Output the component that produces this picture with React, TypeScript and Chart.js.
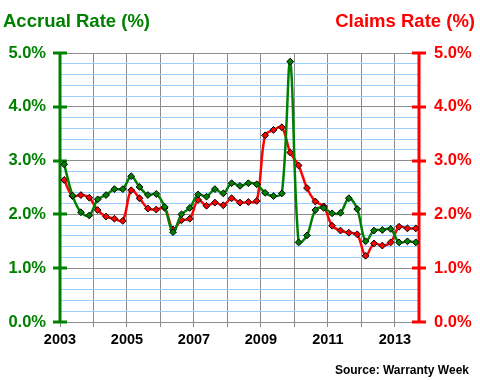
import React, { useEffect, useRef } from 'react';
import { Chart, registerables } from 'chart.js';

Chart.register(...registerables);

const quarters = [
  '2003 Q1', '2003 Q2', '2003 Q3', '2003 Q4',
  '2004 Q1', '2004 Q2', '2004 Q3', '2004 Q4',
  '2005 Q1', '2005 Q2', '2005 Q3', '2005 Q4',
  '2006 Q1', '2006 Q2', '2006 Q3', '2006 Q4',
  '2007 Q1', '2007 Q2', '2007 Q3', '2007 Q4',
  '2008 Q1', '2008 Q2', '2008 Q3', '2008 Q4',
  '2009 Q1', '2009 Q2', '2009 Q3', '2009 Q4',
  '2010 Q1', '2010 Q2', '2010 Q3', '2010 Q4',
  '2011 Q1', '2011 Q2', '2011 Q3', '2011 Q4',
  '2012 Q1', '2012 Q2', '2012 Q3', '2012 Q4',
  '2013 Q1', '2013 Q2', '2013 Q3',
];

const accrualRate = [
  2.93, 2.35, 2.04, 1.98,
  2.28, 2.36, 2.47, 2.47,
  2.71, 2.51, 2.36, 2.38,
  2.14, 1.67, 2.0, 2.12,
  2.37, 2.33, 2.47, 2.39,
  2.58, 2.53, 2.58, 2.56,
  2.4, 2.34, 2.39, 4.84,
  1.48, 1.61, 2.08, 2.12,
  2.02, 2.03, 2.3, 2.1,
  1.5, 1.7, 1.71, 1.73,
  1.48, 1.5, 1.48,
];

const claimsRate = [
  2.64, 2.34, 2.36, 2.31,
  2.08, 1.96, 1.92, 1.88,
  2.45, 2.3, 2.11, 2.09,
  2.12, 1.72, 1.89, 1.92,
  2.27, 2.16, 2.22, 2.17,
  2.3, 2.22, 2.23, 2.25,
  3.47, 3.57, 3.62, 3.15,
  2.91, 2.49, 2.24, 2.15,
  1.79, 1.7, 1.66, 1.63,
  1.23, 1.46, 1.42, 1.48,
  1.77, 1.74, 1.74,
];

const yearLabels = [2003, 2005, 2007, 2009, 2011, 2013];

const FONT = "'Liberation Sans', Arial, sans-serif";
const GREEN = '#008000';
const RED = '#ff0000';
const GRID_GREY = '#8c8c8c';
const GRID_BLUE = '#99ccff';

const quarterToX = (q: string) => {
  const [y, qq] = q.split(' Q');
  return Number(y) + (Number(qq) - 0.5) / 4;
};

const axesPlugin = {
  id: 'crossAxes',
  beforeDatasetsDraw(chart: any) {
    const { ctx, chartArea } = chart;
    const y = chart.scales.y;
    const y2 = chart.scales.y2;
    ctx.save();
    ctx.lineWidth = 3;
    const drawAxis = (scale: any, x: number, color: string) => {
      ctx.strokeStyle = color;
      ctx.beginPath();
      ctx.moveTo(x, chartArea.top);
      ctx.lineTo(x, chartArea.bottom);
      ctx.stroke();
      scale.ticks.forEach((t: any) => {
        if (Math.abs(t.value - Math.round(t.value)) < 1e-6) {
          const py = Math.round(scale.getPixelForValue(t.value));
          ctx.beginPath();
          ctx.moveTo(x - 7, py);
          ctx.lineTo(x + 7, py);
          ctx.stroke();
        }
      });
    };
    drawAxis(y, Math.round(chartArea.left), GREEN);
    drawAxis(y2, Math.round(chartArea.right), RED);
    ctx.restore();
  },
};

export default function App() {
  const canvasRef = useRef<HTMLCanvasElement | null>(null);

  useEffect(() => {
    document.body.style.margin = '0';
    const canvas = canvasRef.current;
    if (!canvas) return;
    const isInt = (v: number) => Math.abs(v - Math.round(v)) < 1e-6;
    const chart = new Chart(canvas, {
      type: 'line',
      data: {
        datasets: [
          {
            label: 'Accrual Rate (%)',
            data: quarters.map((q, i) => ({ x: quarterToX(q), y: accrualRate[i] })),
            yAxisID: 'y',
            borderColor: GREEN,
            backgroundColor: GREEN,
            borderWidth: 2.5,
            tension: 0.35,
            pointStyle: 'rectRot',
            pointRadius: 3.4,
            pointBackgroundColor: GREEN,
            pointBorderColor: '#000',
            pointBorderWidth: 1,
          },
          {
            label: 'Claims Rate (%)',
            data: quarters.map((q, i) => ({ x: quarterToX(q), y: claimsRate[i] })),
            yAxisID: 'y2',
            borderColor: RED,
            backgroundColor: RED,
            borderWidth: 2.5,
            tension: 0.35,
            pointStyle: 'rectRot',
            pointRadius: 3.4,
            pointBackgroundColor: RED,
            pointBorderColor: '#000',
            pointBorderWidth: 1,
          },
        ],
      },
      options: {
        animation: false,
        responsive: false,
        devicePixelRatio: 1,
        layout: { padding: { top: 53, left: 0, right: 0, bottom: 0 } },
        plugins: {
          legend: { display: false },
          tooltip: { enabled: false },
          title: { display: false },
        },
        scales: {
          x: {
            type: 'linear',
            min: 2003,
            max: 2013.72,
            afterFit: (s: any) => { s.height = 58; },
            grid: {
              color: GRID_GREY,
              lineWidth: 1,
              drawTicks: true,
              tickLength: 5,
              tickColor: GRID_GREY,
            },
            border: { display: true, color: GRID_GREY, width: 1 },
            ticks: {
              stepSize: 1,
              autoSkip: false,
              includeBounds: false,
              maxRotation: 0,
              padding: 4,
              color: '#000',
              font: { family: FONT, size: 14.5, weight: 'bold' },
              callback: (v: any) => (yearLabels.includes(Math.round(Number(v))) && isInt(Number(v)) ? String(Math.round(Number(v))) : ''),
            },
          },
          y: {
            type: 'linear',
            position: 'left',
            min: 0,
            max: 5,
            afterFit: (s: any) => { s.width = 60; },
            grid: {
              drawTicks: false,
              lineWidth: 1,
              color: (ctx: any) => (ctx.tick && isInt(ctx.tick.value) ? GRID_GREY : GRID_BLUE),
            },
            border: { display: false },
            ticks: {
              stepSize: 0.2,
              autoSkip: false,
              padding: 14,
              color: GREEN,
              font: { family: FONT, size: 16.5, weight: 'bold' },
              callback: (v: any) => (isInt(Number(v)) ? Number(v).toFixed(1) + '%' : ''),
            },
          },
          y2: {
            type: 'linear',
            position: 'right',
            min: 0,
            max: 5,
            afterFit: (s: any) => { s.width = 61; },
            grid: { display: false, drawTicks: false },
            border: { display: false },
            ticks: {
              stepSize: 0.2,
              autoSkip: false,
              padding: 15,
              color: RED,
              font: { family: FONT, size: 16.5, weight: 'bold' },
              callback: (v: any) => (isInt(Number(v)) ? Number(v).toFixed(1) + '%' : ''),
            },
          },
        },
      } as any,
      plugins: [axesPlugin],
    });
    return () => chart.destroy();
  }, []);

  const textBase: React.CSSProperties = {
    position: 'absolute',
    fontFamily: FONT,
    fontWeight: 'bold',
    whiteSpace: 'nowrap',
  };

  return (
    <div style={{ position: 'relative', width: 480, height: 380, background: '#fff', overflow: 'hidden' }}>
      <canvas ref={canvasRef} width={480} height={380} style={{ position: 'absolute', left: 0, top: 0, width: 480, height: 380 }} />
      <div style={{ ...textBase, left: 3, top: 12, fontSize: 18.5, lineHeight: '18px', color: GREEN }}>Accrual Rate (%)</div>
      <div style={{ ...textBase, right: 5, top: 12, fontSize: 18.5, lineHeight: '18px', color: RED }}>Claims Rate (%)</div>
      <div style={{ ...textBase, right: 11, top: 364, fontSize: 12, lineHeight: '12px', color: '#000' }}>Source: Warranty Week</div>
    </div>
  );
}
